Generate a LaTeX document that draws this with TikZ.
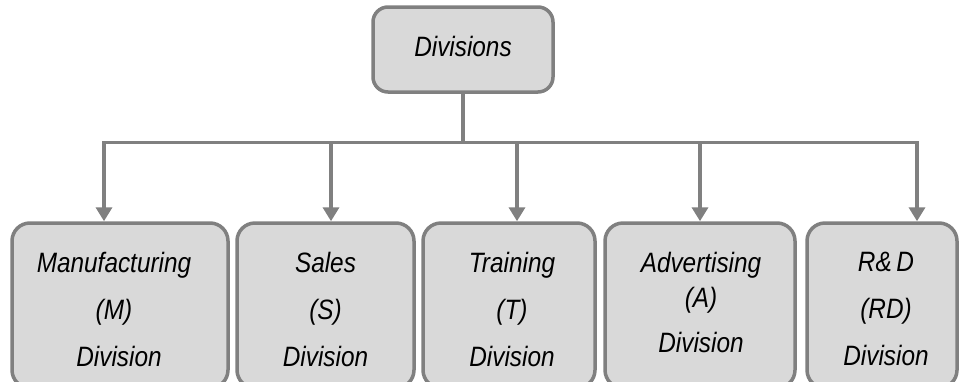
\documentclass[tikz,border=0pt]{standalone}
\usepackage{fontspec}
\setmainfont{Liberation Sans}[FakeStretch=0.87]
\usetikzlibrary{arrows.meta}
\definecolor{edgegray}{RGB}{128,128,128}
\definecolor{boxfill}{RGB}{217,217,217}
\begin{document}
\begin{tikzpicture}[x=1pt,y=-1pt,
  box/.style={draw=edgegray,fill=boxfill,line width=3.5pt,rounded corners=18pt,inner sep=0pt},
  lbl/.style={align=center,inner sep=0pt,font=\fontsize{28}{47}\selectfont\itshape},
  conn/.style={draw=edgegray,line width=3.5pt},
  arr/.style={conn,-{Triangle[width=16pt,length=14pt]}}]
\useasboundingbox (0,0) rectangle (960,381);
\clip (0,0) rectangle (960,381);
% top box
\node[box,minimum width=180pt,minimum height=85pt,rounded corners=15pt] (top) at (463,49.5) {};
\node[lbl] (topt) at (463,46) {Divisions};
% bottom boxes
\node[box,minimum width=216pt,minimum height=165pt] (m) at (120,305.5) {};
\node[box,minimum width=177pt,minimum height=165pt] (s) at (325.5,305.5) {};
\node[box,minimum width=172pt,minimum height=165pt] (t) at (509,305.5) {};
\node[box,minimum width=190pt,minimum height=165pt] (a) at (700,305.5) {};
\node[box,minimum width=150pt,minimum height=165pt] (r) at (882,305.5) {};
% labels
\node[lbl] (mt) at (114,309) {Manufacturing\\(M)\\\hspace*{10pt}Division};
\node[lbl] (st) at (325.5,309) {Sales\\(S)\\Division};
\node[lbl] (tt) at (512,309) {Training\\(T)\\Division};
\node[lbl] (at) at (701,302) {Advertising\\[-12pt](A)\\[-2pt]Division};
\node[lbl] (rt) at (886,309) {R\&\,D\\(RD)\\Division};
% connectors
\coordinate (j1) at (104,142.5);
\coordinate (j2) at (331,142.5);
\coordinate (j3) at (517,142.5);
\coordinate (j4) at (700,142.5);
\coordinate (j5) at (917,142.5);
\draw[conn] (top.south) -- (top.south |- j1);
\draw[conn,line cap=rect] (j1) -- (j5);
\draw[arr] (j1) -- (j1 |- m.north);
\draw[arr] (j2) -- (j2 |- s.north);
\draw[arr] (j3) -- (j3 |- t.north);
\draw[arr] (j4) -- (j4 |- a.north);
\draw[arr] (j5) -- (j5 |- r.north);
\end{tikzpicture}
\end{document}
